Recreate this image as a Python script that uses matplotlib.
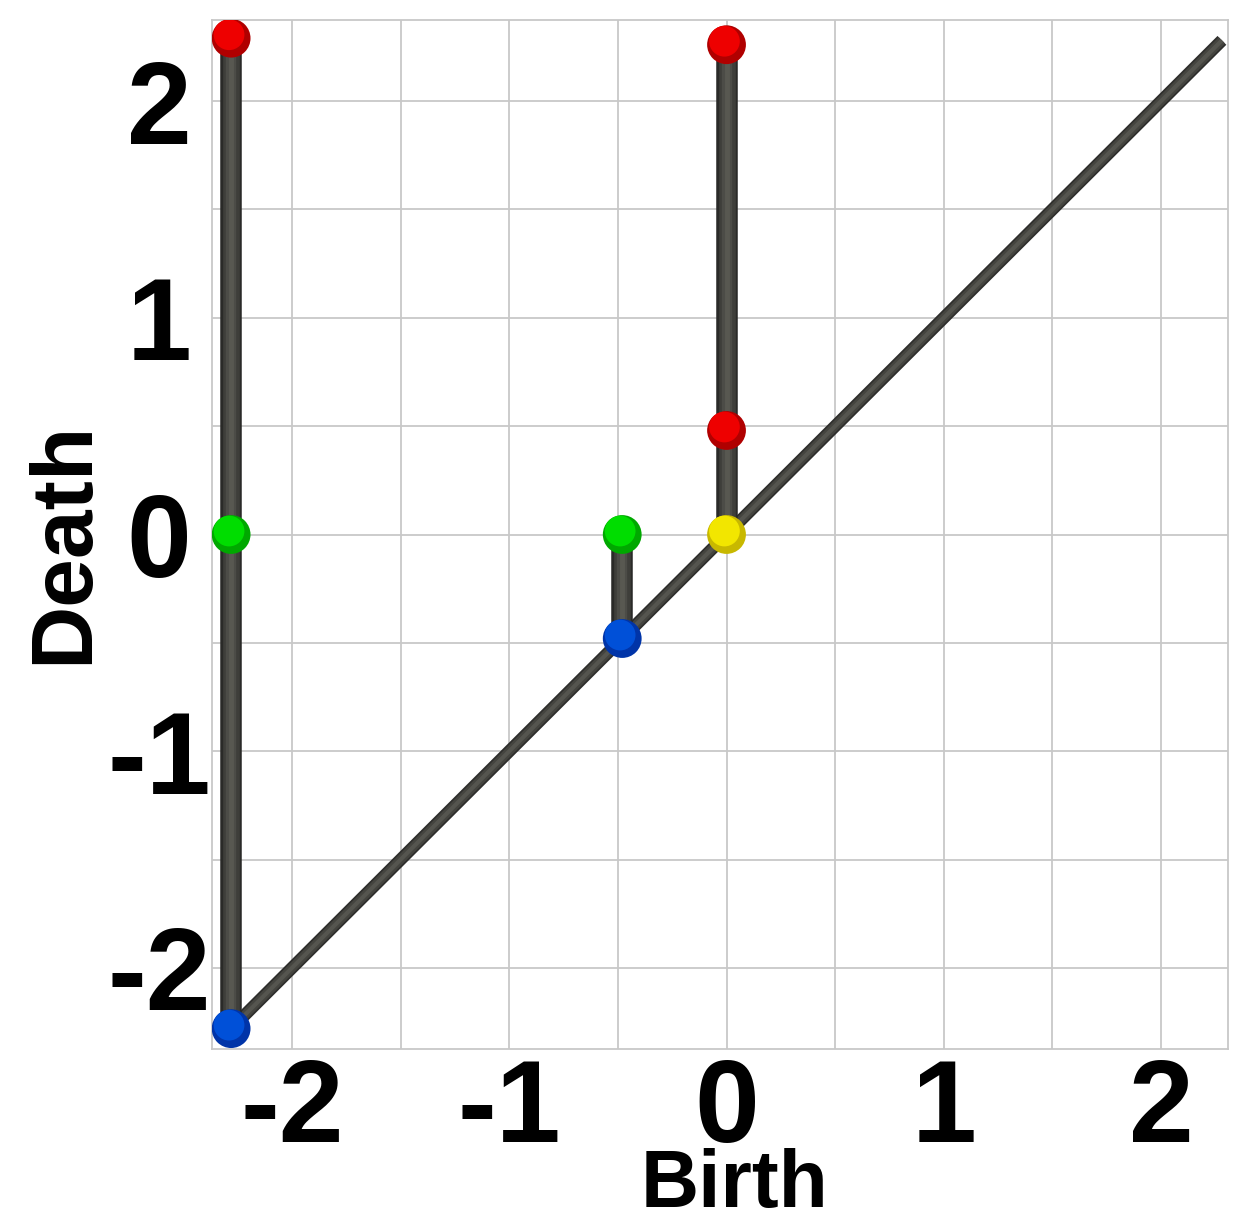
import matplotlib.pyplot as plt
import matplotlib.transforms as mtransforms
import numpy as np

plt.rcParams['font.family'] = ['Liberation Sans', 'DejaVu Sans']
plt.rcParams['axes.unicode_minus'] = False

# persistence pairs (birth, death) for each vertical bar
bar_birth = [-2.28, -0.48, 0.0]
bar_low = [-2.28, -0.48, 0.0]
bar_high = [2.29, 0.0, 2.26]

# points drawn as spheres
pt_x = [-2.28, -2.28, -2.28, -0.48, -0.48, 0.0, 0.0, 0.0]
pt_y = [2.29, 0.0, -2.28, 0.0, -0.48, 0.0, 0.48, 2.26]
pt_col = ['red', 'green', 'blue', 'green', 'blue', 'yellow', 'red', 'red']

# diagonal end points
diag = [-2.28, 2.28]

ticks = [-2, -1, 0, 1, 2]
tick_labels = ['-2', '-1', '0', '1', '2']
xlim = (-2.368, 2.308)
ylim = (-2.374, 2.374)

base = {'red': '#b00000', 'green': '#00a800', 'blue': '#0034a8', 'yellow': '#c8b800'}
hi = {'red': '#ee0000', 'green': '#00dd00', 'blue': '#0050d8', 'yellow': '#f2e600'}

fig = plt.figure(figsize=(12.52, 12.22), dpi=100)
ax = fig.add_axes([212/1252, 1 - 1049/1222, 1016/1252, 1029/1222])
ax.set_xlim(*xlim)
ax.set_ylim(*ylim)

# grid every 0.5
ax.set_xticks(np.arange(-2, 2.01, 0.5), minor=True)
ax.set_yticks(np.arange(-2, 2.01, 0.5), minor=True)
ax.grid(True, which='both', color='#c8c8c8', linewidth=1.3)
ax.set_axisbelow(True)
for s in ax.spines.values():
    s.set_color('#c8c8c8')
    s.set_linewidth(1.3)

ax.set_xticks(ticks)
ax.set_yticks(ticks)
ax.set_xticklabels(tick_labels, fontsize=84, fontweight='bold')
ax.set_yticklabels(tick_labels, fontsize=84, fontweight='bold')
ax.tick_params(which='both', length=0)
ax.tick_params(axis='x', pad=6)
ax.tick_params(axis='y', pad=38)
for lab in ax.get_yticklabels():
    lab.set_horizontalalignment('center')

# diagonal as a shaded tube
for lw, c in [(9.0, '#2e2e2c'), (6.5, '#44443f'), (3.0, '#55554f')]:
    ax.plot(diag, diag, color=c, lw=lw, solid_capstyle='butt', zorder=3)

# vertical bars as shaded tubes
for b, lo, hi_ in zip(bar_birth, bar_low, bar_high):
    for lw, c in [(15.5, '#2a2a28'), (12.0, '#3e3e3a'), (7.5, '#4c4c47'), (3.5, '#585851')]:
        ax.plot([b, b], [lo, hi_], color=c, lw=lw, solid_capstyle='butt', zorder=4)

# spheres
off = mtransforms.offset_copy(ax.transData, fig=fig, x=-1.5, y=2.5, units='points')
ax.scatter(pt_x, pt_y, s=780, c=[base[c] for c in pt_col], edgecolors='none', zorder=5)
ax.scatter(pt_x, pt_y, s=490, c=[hi[c] for c in pt_col], edgecolors='none', zorder=6,
           transform=off)

fig.text(735/1252, 1 - 1186/1222, 'Birth', fontsize=58, fontweight='bold',
         ha='center', va='center')
fig.text(65/1252, 1 - 542/1222, 'Death', fontsize=63, fontweight='bold',
         ha='center', va='center', rotation=90)

fig.savefig('out.png', dpi=100)
